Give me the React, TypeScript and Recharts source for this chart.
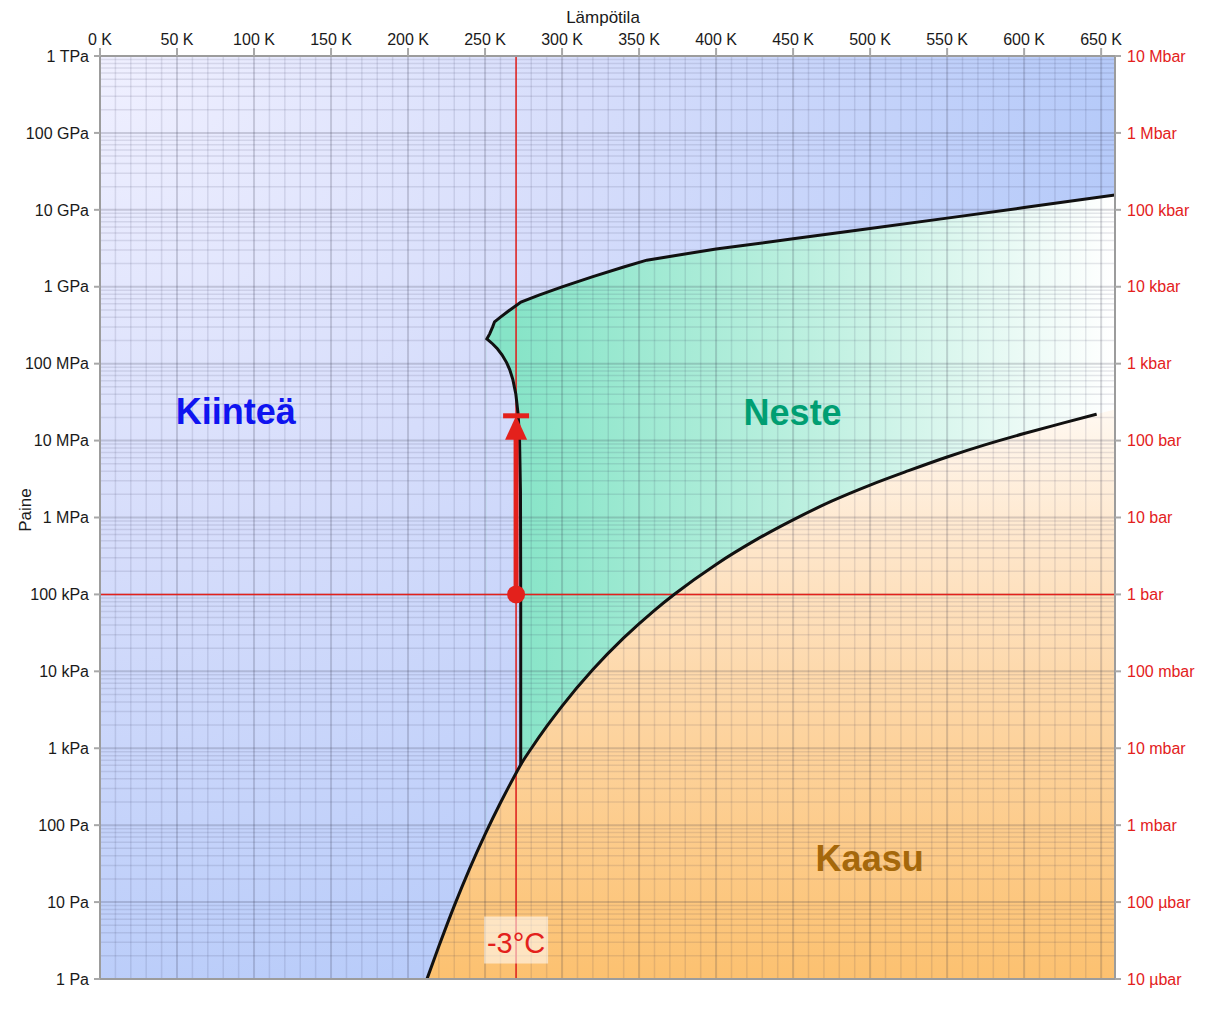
import React from "react";
import {
  ComposedChart,
  Area,
  Line,
  XAxis,
  YAxis,
  CartesianGrid,
  ReferenceLine,
  ReferenceArea,
  ReferenceDot,
} from "recharts";

const W = 1199;
const H = 1005;
const T_MAX = 659;
const KELVIN = 273.15;
const FONT = '"Liberation Sans", Arial, Helvetica, sans-serif';
const RED = "#e3211c";
const INK = "#1a1a1a";
const MINOR = "rgba(40,40,70,0.11)";

// phase boundaries of water, [T in K, p in Pa]
const sublimation: [number, number][] = [
  [212.3, 1], [220, 2.66], [230, 8.94], [240, 27.3], [250, 76.0],
  [260, 195.8], [265, 305.9], [270, 470.1], [273.16, 611.657],
];
const vaporization: [number, number][] = [
  [273.16, 611.657], [280, 991.8], [290, 1920], [300, 3537], [320, 10546],
  [340, 27188], [360, 62194], [373.15, 101325], [400, 245770], [425, 500000],
  [450, 932000], [475, 1.63e6], [500, 2.639e6], [525, 4.06e6], [550, 6.117e6],
  [575, 8.85e6], [600, 12.345e6], [625, 16.85e6], [647.1, 22.064e6],
];
const supercritical: [number, number][] = [[659, 25.4e6]];
// ice Ih melting curve, ascending T
const meltIceIh: [number, number][] = [
  [251.165, 209.9e6], [255, 180.3e6], [258, 156.2e6], [261, 130.7e6],
  [264, 103.3e6], [266, 83.7e6], [268, 62.6e6], [270, 40.0e6], [271.5, 21.7e6],
  [272.42, 9.87e6], [273.0, 2.16e6], [273.15, 101325], [273.16, 611.657],
];
// ice III / V / VI / VII melting curve
const meltHighIce: [number, number][] = [
  [251.165, 209.9e6], [253, 244e6], [255, 303e6], [256.164, 350.1e6],
  [260, 402.7e6], [265, 479.6e6], [270, 567.5e6], [273.31, 632.4e6],
  [285, 776.8e6], [300, 996e6], [320, 1.357e9], [340, 1.809e9], [355, 2.216e9],
  [400, 3.1e9], [450, 4.2e9], [500, 5.7e9], [550, 7.8e9], [600, 10.7e9],
  [659, 15.6e9],
];

// the -3 °C path
const pathTemp = 270.15;
const pathFrom = 1e5;
const pathShaftTop = 1.1e7;
const pathTo = 2.1e7;

const kTicks = [0, 50, 100, 150, 200, 250, 300, 350, 400, 450, 500, 550, 600, 650];
const cTicks = [-250, -200, -150, -100, -50, 0, 50, 100, 150, 200, 250, 300, 350];
const paLabels = ["1 Pa", "10 Pa", "100 Pa", "1 kPa", "10 kPa", "100 kPa", "1 MPa", "10 MPa", "100 MPa", "1 GPa", "10 GPa", "100 GPa", "1 TPa"];
const barLabels = ["10 µbar", "100 µbar", "1 mbar", "10 mbar", "100 mbar", "1 bar", "10 bar", "100 bar", "1 kbar", "10 kbar", "100 kbar", "1 Mbar", "10 Mbar"];
const pTicks = paLabels.map((_, i) => 10 ** i);

// minor grid: every 10 K, and 2..9 within each decade
const kMinor: number[] = [];
for (let t = 10; t <= T_MAX; t += 10) if (t % 50 !== 0) kMinor.push(t);
const pMinor: number[] = [];
for (let e = 0; e < 12; e++) for (let m = 2; m <= 9; m++) pMinor.push(m * 10 ** e);

const pts = (a: [number, number][]) => a.map(([t, p]) => ({ t, p }));

const gasArea = pts([...sublimation, ...vaporization.slice(1), ...supercritical]);
const liquidArea = pts(meltHighIce);
const iceIhArea = pts(meltIceIh);
const vapLine = pts([...sublimation, ...vaporization.slice(1)]);
const meltLine = pts([...[...meltIceIh].reverse(), ...meltHighIce.slice(1)]);
const shaft = pts([[pathTemp, pathFrom], [pathTemp, pathShaftTop]]);

const pIndex = (v: number) => Math.round(Math.log10(v));
const celsius = (v: number) => `${v < 0 ? "\u2212" : ""}${Math.abs(v)} °C`;

const regionText = (text: string, color: string) => (p: any) => (
  <text x={p.cx} y={p.cy} textAnchor="middle" fontSize={36} fontWeight={700} fill={color}>
    {text}
  </text>
);

const arrowHead = (p: any) => (
  <g>
    <rect x={p.cx - 13} y={p.cy - 2.5} width={26} height={5} fill={RED} />
    <path d={`M${p.cx},${p.cy} L${p.cx - 11},${p.cy + 24} L${p.cx + 11},${p.cy + 24} Z`} fill={RED} />
  </g>
);

const tempTag = (p: any) => (
  <g>
    <rect x={p.cx - 32} y={p.cy - 23} width={64} height={47} fill="#ffffff" fillOpacity={0.55} />
    <text x={p.cx} y={p.cy + 13} textAnchor="middle" fontSize={29} fill={RED}>
      -3°C
    </text>
  </g>
);

export default function App() {
  const axisLine = { stroke: "#9c9c9c", strokeWidth: 2 };
  const grayTick = { stroke: "#a8a8a8", strokeWidth: 2 };
  return (
    <div style={{ width: W, height: H, fontFamily: FONT }}>
      <ComposedChart width={W} height={H} margin={{ top: 0, right: 0, bottom: 0, left: 0 }}>
        <defs>
          <radialGradient id="iceFill" gradientUnits="userSpaceOnUse" cx={92} cy={48} r={1080}>
            <stop offset="0" stopColor="#f0f0ff" />
            <stop offset="0.45" stopColor="#d6ddfb" />
            <stop offset="1" stopColor="#b2c8f9" />
          </radialGradient>
          <linearGradient id="liquidFill" gradientUnits="userSpaceOnUse" x1={500} y1={0} x2={1105} y2={0}>
            <stop offset="0" stopColor="#86e4c7" />
            <stop offset="0.5" stopColor="#bdf0e0" />
            <stop offset="1" stopColor="#ffffff" />
          </linearGradient>
          <linearGradient id="gasFill" gradientUnits="userSpaceOnUse" x1={0} y1={971} x2={0} y2={405}>
            <stop offset="0" stopColor="#fcc170" />
            <stop offset="0.45" stopColor="#fdd4a0" />
            <stop offset="0.75" stopColor="#fee5c8" />
            <stop offset="1" stopColor="#fff8f0" />
          </linearGradient>
        </defs>

        <XAxis
          xAxisId="k" dataKey="t" type="number" orientation="top" domain={[0, T_MAX]} allowDataOverflow
          ticks={kTicks} interval={0} height={48} tickFormatter={(v) => `${v} K`}
          tick={{ fill: INK, fontSize: 16 }} tickSize={8} tickMargin={3} tickLine={grayTick} axisLine={axisLine}
        />
        <XAxis
          xAxisId="c" type="number" orientation="bottom" domain={[-KELVIN, T_MAX - KELVIN]} allowDataOverflow
          ticks={cTicks} interval={0} height={34} tickFormatter={celsius}
          tick={{ fill: RED, fontSize: 16 }} tickSize={7} tickMargin={3}
          tickLine={{ stroke: RED, strokeWidth: 2 }} axisLine={axisLine}
        />
        <YAxis
          yAxisId="p" type="number" scale="log" domain={[1, 1e12]} allowDataOverflow ticks={pTicks} interval={0}
          width={92} tickFormatter={(v) => paLabels[pIndex(v)]}
          tick={{ fill: INK, fontSize: 16 }} tickSize={6} tickMargin={5} tickLine={grayTick} axisLine={axisLine}
        />
        <YAxis
          yAxisId="bar" orientation="right" type="number" scale="log" domain={[1, 1e12]} allowDataOverflow
          ticks={pTicks} interval={0} width={92} tickFormatter={(v) => barLabels[pIndex(v)]}
          tick={{ fill: RED, fontSize: 16 }} tickSize={6} tickMargin={6} tickLine={grayTick} axisLine={axisLine}
        />
        <YAxis yAxisId="pm" hide type="number" scale="log" domain={[1, 1e12]} allowDataOverflow ticks={pMinor} interval={0} />

        <ReferenceArea
          xAxisId="k" yAxisId="p" x1={0} x2={T_MAX} y1={1} y2={1e12}
          fill="url(#iceFill)" fillOpacity={1} stroke="none" zIndex={10}
        />
        <Area
          xAxisId="k" yAxisId="p" data={liquidArea} dataKey="p" type="linear" baseValue={1}
          fill="url(#liquidFill)" fillOpacity={1} stroke="none" isAnimationActive={false} zIndex={20}
        />
        <Area
          xAxisId="k" yAxisId="p" data={iceIhArea} dataKey="p" type="linear" baseValue={1}
          fill="url(#iceFill)" fillOpacity={1} stroke="none" isAnimationActive={false} zIndex={30}
        />
        <Area
          xAxisId="k" yAxisId="p" data={gasArea} dataKey="p" type="monotone" baseValue={1}
          fill="url(#gasFill)" fillOpacity={1} stroke="none" isAnimationActive={false} zIndex={40}
        />

        <CartesianGrid xAxisId="k" yAxisId="pm" vertical={false} stroke={MINOR} strokeWidth={1.5} zIndex={50} />
        {kMinor.map((t) => (
          <ReferenceLine key={t} xAxisId="k" yAxisId="p" x={t} stroke={MINOR} strokeWidth={1.5} zIndex={50} />
        ))}
        <CartesianGrid xAxisId="k" yAxisId="p" stroke="rgba(40,40,60,0.18)" strokeWidth={2} zIndex={60} />

        <ReferenceLine xAxisId="k" yAxisId="p" x={pathTemp} stroke={RED} strokeWidth={1.5} zIndex={70} />
        <ReferenceLine xAxisId="k" yAxisId="p" y={pathFrom} stroke={RED} strokeWidth={1.5} zIndex={70} />

        <Line
          xAxisId="k" yAxisId="p" data={vapLine} dataKey="p" type="monotone" stroke="#111" strokeWidth={3}
          dot={false} activeDot={false} isAnimationActive={false} zIndex={80}
        />
        <Line
          xAxisId="k" yAxisId="p" data={meltLine} dataKey="p" type="linear" stroke="#111" strokeWidth={3}
          dot={false} activeDot={false} isAnimationActive={false} zIndex={80}
        />

        <Line
          xAxisId="k" yAxisId="p" data={shaft} dataKey="p" type="linear" stroke={RED} strokeWidth={5}
          dot={false} activeDot={false} isAnimationActive={false} zIndex={90}
        />
        <ReferenceDot xAxisId="k" yAxisId="p" x={pathTemp} y={pathFrom} r={9} fill={RED} stroke="none" zIndex={90} />
        <ReferenceDot xAxisId="k" yAxisId="p" x={pathTemp} y={pathTo} shape={arrowHead} zIndex={90} />

        <ReferenceDot xAxisId="k" yAxisId="p" x={88.2} y={1.64e7} shape={regionText("Kiinteä", "#0f14f0")} zIndex={95} />
        <ReferenceDot xAxisId="k" yAxisId="p" x={449.7} y={1.6e7} shape={regionText("Neste", "#009e72")} zIndex={95} />
        <ReferenceDot xAxisId="k" yAxisId="p" x={499.7} y={25.4} shape={regionText("Kaasu", "#a5680b")} zIndex={95} />
        <ReferenceDot xAxisId="k" yAxisId="p" x={pathTemp} y={3.26} shape={tempTag} zIndex={95} />

        <text x={595} y={15} textAnchor="middle" fontSize={17} fill={INK}>
          Lämpötila
        </text>
        <text transform="translate(23 502) rotate(-90)" textAnchor="middle" fontSize={17} fill={INK}>
          Paine
        </text>
      </ComposedChart>
    </div>
  );
}
